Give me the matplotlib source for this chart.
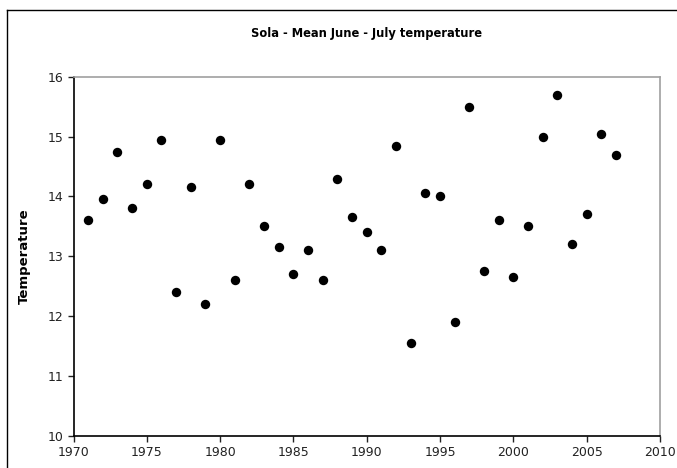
import matplotlib
matplotlib.use("Agg")
import matplotlib.pyplot as plt
from matplotlib.lines import Line2D

years = list(range(1971, 2008))
temps = [13.6, 13.95, 14.75, 13.8, 14.2, 14.95, 12.4, 14.15, 12.2, 14.95,
         12.6, 14.2, 13.5, 13.15, 12.7, 13.1, 12.6, 14.3, 13.65, 13.4,
         13.1, 14.85, 11.55, 14.05, 14.0, 11.9, 15.5, 12.75, 13.6, 12.65,
         13.5, 15.0, 15.7, 13.2, 13.7, 15.05, 14.7]
xticks = [1970, 1975, 1980, 1985, 1990, 1995, 2000, 2005, 2010]
yticks = [10, 11, 12, 13, 14, 15, 16]

plt.rcParams['font.family'] = ['DejaVu Sans']
W, H = 677, 468
fig = plt.figure(figsize=(W / 100, H / 100), dpi=100)

# outer chart border (left and top visible)
fig.add_artist(Line2D([7 / W, 7 / W], [0, 1 - 10 / H], transform=fig.transFigure, color='black', lw=1))
fig.add_artist(Line2D([7 / W, 1], [1 - 10 / H, 1 - 10 / H], transform=fig.transFigure, color='black', lw=1))

l, r, t, b = 73.5, 660, 76.7, 436
ax = fig.add_axes([l / W, 1 - b / H, (r - l) / W, (b - t) / H])
ax.scatter(years, temps, s=46, color='black', zorder=3, clip_on=False, linewidths=0)
ax.set_xlim(1970, 2010)
ax.set_ylim(10, 16)
ax.set_xticks(xticks)
ax.set_yticks(yticks)
ax.tick_params(direction='out', length=4, width=1, labelsize=9, pad=3, colors='#222222')
for s in ['top', 'right']:
    ax.spines[s].set_color('#a0a0a0')
    ax.spines[s].set_linewidth(1.2)
for s in ['left', 'bottom']:
    ax.spines[s].set_color('black')
    ax.spines[s].set_linewidth(1.2)

ax.set_ylabel('Temperature', fontsize=9.5, fontweight='bold')
ax.yaxis.set_label_coords(31 / W, 1 - 256 / H, transform=fig.transFigure)
fig.text(0.5 * (l + r) / W, 1 - 33 / H, 'Sola - Mean June - July temperature',
         ha='center', va='center', fontsize=8.3, fontweight='bold')

fig.savefig('out.png', dpi=100)
